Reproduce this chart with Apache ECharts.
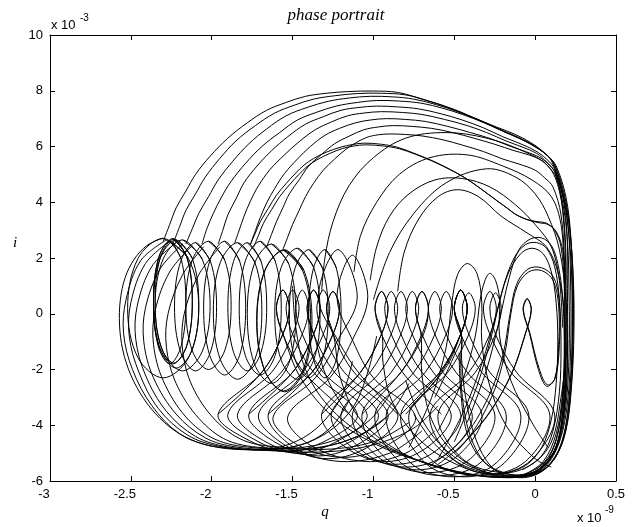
<!DOCTYPE html>
<html>
<head>
<meta charset="utf-8">
<script src="https://cdn.jsdelivr.net/npm/echarts@6.0.0/dist/echarts.min.js"></script>
<style>
  html, body { margin: 0; padding: 0; background: #fff; }
  #chart { width: 634px; height: 527px; }
</style>
</head>
<body>
<div id="chart"></div>
<script>
// q in units of 1e-9, i in units of 1e-3

// big arcs that climb from the left loops, run over the top and down the right edge
const topArcs = [
    [[-2.30,2.6],[-2.26,3.2],[-2.22,3.8],[-2.16,4.4],[-2.10,5.0],[-2.01,5.65],[-1.90,6.3],[-1.78,6.85],[-1.66,7.3],[-1.54,7.58],[-1.42,7.8],[-1.29,7.91],[-1.16,7.97],[-1.0,7.99],[-0.85,7.94],[-0.70,7.7],[-0.54,7.4],[-0.39,7.06],[-0.24,6.7],[-0.13,6.45],[-0.03,6.15],[0.04,5.86],[0.10,5.5],[0.16,4.5],[0.20,3.3],[0.225,1.5],[0.23,-0.5],[0.22,-2.5],[0.19,-4.0],[0.13,-5.1],[0.03,-5.7],[-0.10,-5.88],[-0.25,-5.6],[-0.36,-4.6],[-0.43,-3.0],[-0.455,-1.6],[-0.455,-0.8],[-0.50,0.2],[-0.46,0.85],[-0.42,0.2],[-0.465,-0.8],[-0.58,-2.1],[-0.80,-3.6]],
    [[-2.24,2.5],[-2.20,3.1],[-2.16,3.7],[-2.10,4.3],[-2.04,4.9],[-1.95,5.57],[-1.85,6.2],[-1.73,6.75],[-1.61,7.2],[-1.49,7.48],[-1.37,7.7],[-1.24,7.82],[-1.10,7.9],[-0.95,7.91],[-0.80,7.85],[-0.65,7.62],[-0.50,7.33],[-0.36,6.98],[-0.22,6.62],[-0.12,6.37],[-0.02,6.08],[0.05,5.8],[0.11,5.45],[0.17,4.4],[0.21,3.2],[0.235,1.4],[0.24,-0.6],[0.225,-2.6],[0.19,-4.2],[0.12,-5.2],[0.02,-5.72],[-0.12,-5.86],[-0.30,-5.7],[-0.50,-5.0],[-0.64,-3.8],[-0.70,-2.2],[-0.705,-0.8],[-0.74,0.2],[-0.70,0.8],[-0.66,0.2],[-0.695,-0.8],[-0.83,-2.1],[-1.07,-3.6]],
    [[-2.16,2.5],[-2.12,3.05],[-2.08,3.6],[-2.02,4.2],[-1.96,4.8],[-1.87,5.47],[-1.77,6.1],[-1.66,6.63],[-1.54,7.1],[-1.41,7.4],[-1.28,7.62],[-1.15,7.74],[-1.02,7.8],[-0.88,7.78],[-0.75,7.7],[-0.61,7.5],[-0.48,7.25],[-0.34,6.92],[-0.20,6.55],[-0.10,6.3],[0.0,6.0],[0.07,5.7],[0.12,5.35],[0.18,4.3],[0.215,3.0],[0.235,1.2],[0.235,-0.8],[0.22,-2.8],[0.18,-4.4],[0.10,-5.35],[-0.02,-5.78],[-0.20,-5.85],[-0.45,-5.5],[-0.70,-4.6],[-0.88,-3.2],[-0.94,-1.8],[-0.945,-0.8],[-0.99,0.2],[-0.95,0.8],[-0.91,0.2],[-0.955,-0.8],[-1.08,-2.1],[-1.32,-3.6]],
    [[-2.06,2.5],[-2.03,3.05],[-1.99,3.6],[-1.94,4.18],[-1.88,4.75],[-1.79,5.4],[-1.69,6.0],[-1.58,6.5],[-1.47,6.95],[-1.35,7.23],[-1.23,7.45],[-1.10,7.58],[-0.98,7.65],[-0.84,7.63],[-0.70,7.55],[-0.57,7.37],[-0.45,7.15],[-0.31,6.84],[-0.18,6.5],[-0.08,6.24],[0.01,5.95],[0.08,5.65],[0.13,5.3],[0.19,4.2],[0.22,2.8],[0.23,1.0],[0.23,-1.0],[0.21,-3.0],[0.17,-4.5],[0.08,-5.45],[-0.05,-5.82],[-0.25,-5.86],[-0.55,-5.6],[-0.85,-4.9],[-1.08,-3.8],[-1.20,-2.4],[-1.245,-0.8],[-1.29,0.2],[-1.25,0.8],[-1.21,0.2],[-1.255,-0.8],[-1.38,-2.1],[-1.65,-3.6]],
    [[-1.96,2.5],[-1.93,3.02],[-1.90,3.55],[-1.85,4.12],[-1.80,4.7],[-1.72,5.3],[-1.63,5.85],[-1.53,6.35],[-1.42,6.8],[-1.31,7.07],[-1.20,7.3],[-1.09,7.4],[-0.98,7.45],[-0.85,7.42],[-0.72,7.35],[-0.58,7.17],[-0.45,6.95],[-0.32,6.67],[-0.20,6.35],[-0.10,6.12],[0.0,5.85],[0.07,5.55],[0.12,5.2],[0.18,4.1],[0.21,2.7],[0.22,0.8],[0.22,-1.2],[0.20,-3.2],[0.15,-4.6],[0.06,-5.5],[-0.06,-5.8],[-0.30,-5.85],[-0.60,-5.5],[-0.90,-4.8],[-1.12,-3.8],[-1.28,-2.4],[-1.365,-0.8],[-1.41,0.2],[-1.37,0.85],[-1.33,0.2],[-1.375,-0.8],[-1.50,-2.1],[-1.77,-3.6]],
    [[-1.86,2.5],[-1.83,3.0],[-1.80,3.5],[-1.76,4.05],[-1.71,4.6],[-1.64,5.17],[-1.55,5.7],[-1.46,6.17],[-1.36,6.6],[-1.26,6.88],[-1.16,7.1],[-1.06,7.2],[-0.95,7.25],[-0.82,7.22],[-0.70,7.15],[-0.56,6.97],[-0.42,6.75],[-0.30,6.5],[-0.18,6.2],[-0.08,5.98],[0.01,5.75],[0.07,5.45],[0.12,5.1],[0.17,4.0],[0.20,2.6],[0.21,0.6],[0.21,-1.4],[0.19,-3.3],[0.14,-4.7],[0.05,-5.5],[-0.08,-5.82],[-0.35,-5.8],[-0.65,-5.4],[-0.98,-4.7],[-1.25,-3.7],[-1.45,-2.3],[-1.555,-0.8],[-1.60,0.2],[-1.56,0.85],[-1.52,0.2],[-1.565,-0.8],[-1.69,-2.1],[-1.96,-3.6]],
    [[-1.76,2.5],[-1.73,2.98],[-1.70,3.45],[-1.66,3.98],[-1.61,4.5],[-1.55,5.03],[-1.47,5.55],[-1.39,6.0],[-1.30,6.4],[-1.21,6.65],[-1.11,6.85],[-1.02,6.95],[-0.92,7.0],[-0.80,6.97],[-0.68,6.9],[-0.54,6.72],[-0.40,6.5],[-0.27,6.27],[-0.15,6.0],[-0.06,5.82],[0.03,5.6],[0.09,5.32],[0.13,5.0],[0.18,3.9],[0.20,2.4],[0.20,0.4],[0.20,-1.6],[0.18,-3.4],[0.13,-4.8],[0.04,-5.55],[-0.10,-5.84],[-0.40,-5.75],[-0.75,-5.2],[-1.05,-4.4],[-1.28,-3.3],[-1.42,-2.0],[-1.48,-0.5],[-1.50,1.0]],
    [[-1.66,2.4],[-1.63,2.85],[-1.60,3.3],[-1.56,3.8],[-1.52,4.3],[-1.46,4.8],[-1.40,5.3],[-1.32,5.72],[-1.24,6.1],[-1.15,6.37],[-1.06,6.6],[-0.97,6.7],[-0.88,6.75],[-0.76,6.72],[-0.64,6.65],[-0.51,6.5],[-0.38,6.3],[-0.25,6.08],[-0.13,5.85],[-0.04,5.7],[0.04,5.5],[0.09,5.22],[0.13,4.9],[0.17,3.8],[0.19,2.2],[0.19,0.2],[0.19,-1.8],[0.17,-3.6],[0.12,-4.9],[0.03,-5.6],[-0.10,-5.8],[-0.35,-5.6],[-0.55,-4.9],[-0.70,-3.8],[-0.80,-2.4]],
    [[-1.56,2.3],[-1.53,2.75],[-1.50,3.2],[-1.46,3.7],[-1.42,4.2],[-1.37,4.68],[-1.31,5.15],[-1.24,5.55],[-1.17,5.9],[-1.11,6.13],[-1.04,6.33],[-0.97,6.42],[-0.90,6.45],[-0.80,6.43],[-0.70,6.38],[-0.57,6.24],[-0.45,6.05],[-0.32,5.82],[-0.20,5.55],[-0.10,5.37],[0.0,5.15],[0.06,4.87],[0.11,4.55],[0.16,3.55],[0.18,2.0],[0.18,0],[0.18,-2.0],[0.16,-3.7],[0.10,-5.0],[0.0,-5.65],[-0.15,-5.82],[-0.40,-5.55],[-0.60,-4.8],[-0.75,-3.6]],
    [[-1.76,2.5],[-1.73,2.9],[-1.70,3.3],[-1.65,3.78],[-1.60,4.25],[-1.54,4.67],[-1.48,5.05],[-1.43,5.33],[-1.37,5.57],[-1.29,5.8],[-1.20,5.98],[-1.13,6.07],[-1.06,6.12],[-0.95,6.08],[-0.85,5.97],[-0.75,5.76],[-0.64,5.5],[-0.54,5.22],[-0.44,4.9],[-0.34,4.5],[-0.24,4.07],[-0.18,3.82],[-0.13,3.6],[-0.08,3.45],[-0.03,3.35],[0.02,3.3],[0.07,3.25],[0.12,3.0],[0.16,2.4],[0.18,1.0],[0.185,-1.0],[0.17,-3.0],[0.13,-4.5],[0.06,-5.3],[-0.04,-5.7],[-0.15,-5.78],[-0.30,-5.4],[-0.40,-4.4],[-0.45,-3.0],[-0.46,-1.6],[-0.455,-0.8],[-0.50,0.2],[-0.46,0.85],[-0.42,0.2],[-0.465,-0.8],[-0.59,-2.1],[-0.83,-3.6]],
    [[-1.74,2.4],[-1.71,2.82],[-1.68,3.25],[-1.63,3.73],[-1.58,4.2],[-1.52,4.62],[-1.46,5.0],[-1.41,5.28],[-1.35,5.52],[-1.27,5.75],[-1.19,5.93],[-1.12,6.02],[-1.05,6.06],[-0.94,6.02],[-0.84,5.92],[-0.74,5.72],[-0.63,5.46],[-0.53,5.18],[-0.43,4.86],[-0.33,4.46],[-0.23,4.03],[-0.17,3.78],[-0.12,3.56],[-0.07,3.42],[-0.02,3.32],[0.03,3.26],[0.08,3.2],[0.13,2.95],[0.17,2.3],[0.19,0.8],[0.19,-1.2],[0.175,-3.2],[0.14,-4.6],[0.07,-5.35],[-0.03,-5.72],[-0.16,-5.75],[-0.32,-5.3],[-0.42,-4.3],[-0.46,-2.8],[-0.47,-1.4]],
    [[-1.32,0.8],[-1.30,2.0],[-1.25,3.3],[-1.15,4.6],[-1.0,5.6],[-0.80,6.3],[-0.55,6.5],[-0.30,6.3],[-0.08,5.85],[0.08,5.3],[0.15,4.4],[0.18,3.0],[0.19,1.2]],
    [[-1.12,1.5],[-1.08,2.8],[-0.98,4.0],[-0.84,5.0],[-0.65,5.6],[-0.42,5.7],[-0.20,5.3],[-0.02,4.8],[0.10,4.2],[0.16,3.2],[0.18,1.5]],
    [[-1.02,1.2],[-0.98,2.4],[-0.90,3.5],[-0.78,4.3],[-0.62,4.8],[-0.45,4.85],[-0.28,4.55],[-0.12,3.9],[0.0,3.2],[0.10,2.4],[0.15,1.2],[0.17,-0.5]],
    [[-1.0,0.5],[-0.90,2.2],[-0.75,3.6],[-0.55,4.7],[-0.30,5.2],[-0.12,4.9],[0.0,4.3],[0.08,3.5],[0.15,2.3],[0.19,0.5],[0.20,-1.5],[0.18,-3.5],[0.12,-4.9],[0.02,-5.6],[-0.12,-5.82]],
    [[-0.85,0.8],[-0.81,2.2],[-0.72,3.4],[-0.60,4.2],[-0.48,4.45],[-0.35,4.2],[-0.21,3.5],[-0.05,2.9],[0.07,2.4],[0.14,1.5],[0.18,0],[0.19,-2.0],[0.17,-3.8],[0.11,-5.0],[0.0,-5.6]]
];

// tall loops on the left half
const leftLoops = [
    [[-2.24,2.7],[-2.155,2.05],[-2.12,0.45],[-2.155,-1.15],[-2.24,-1.8],[-2.325,-1.15],[-2.36,0.45],[-2.325,2.05],[-2.24,2.7],[-2.155,2.05]],
    [[-2.235,2.67],[-2.153,2.03],[-2.12,0.45],[-2.153,-1.13],[-2.235,-1.77],[-2.317,-1.13],[-2.35,0.45],[-2.317,2.03],[-2.235,2.67],[-2.153,2.03]],
    [[-2.22,2.65],[-2.12,1.98],[-2.08,0.35],[-2.12,-1.28],[-2.22,-1.95],[-2.32,-1.28],[-2.36,0.35],[-2.32,1.98],[-2.22,2.65],[-2.12,1.98]],
    [[-2.18,2.65],[-2.06,1.97],[-2.01,0.3],[-2.06,-1.37],[-2.18,-2.05],[-2.30,-1.37],[-2.35,0.3],[-2.30,1.97],[-2.18,2.65],[-2.06,1.97]],
    [[-2.30,2.7],[-2.144,1.98],[-2.08,0.2],[-2.144,-1.58],[-2.30,-2.3],[-2.456,-1.58],[-2.52,0.2],[-2.456,1.98],[-2.30,2.7],[-2.144,1.98]],
    [[-2.26,2.6],[-2.189,1.96],[-2.16,0.4],[-2.189,-1.16],[-2.26,-1.8],[-2.331,-1.16],[-2.36,0.4],[-2.331,1.96],[-2.26,2.6],[-2.189,1.96]],
    [[-2.10,2.55],[-2.008,1.88],[-1.97,0.25],[-2.008,-1.38],[-2.10,-2.05],[-2.192,-1.38],[-2.23,0.25],[-2.192,1.88],[-2.10,2.55],[-2.008,1.88]],
    [[-2.02,2.6],[-1.92,1.93],[-1.88,0.3],[-1.92,-1.33],[-2.02,-2.0],[-2.12,-1.33],[-2.16,0.3],[-2.12,1.93],[-2.02,2.6],[-1.92,1.93]],
    [[-1.92,2.6],[-1.828,1.9],[-1.79,0.2],[-1.828,-1.5],[-1.92,-2.2],[-2.012,-1.5],[-2.05,0.2],[-2.012,1.9],[-1.92,2.6],[-1.828,1.9]],
    [[-1.84,2.55],[-1.733,1.84],[-1.69,0.1],[-1.733,-1.64],[-1.84,-2.35],[-1.947,-1.64],[-1.99,0.1],[-1.947,1.84],[-1.84,2.55],[-1.733,1.84]],
    [[-1.78,2.55],[-1.695,1.88],[-1.66,0.25],[-1.695,-1.38],[-1.78,-2.05],[-1.865,-1.38],[-1.90,0.25],[-1.865,1.88],[-1.78,2.55],[-1.695,1.88]],
    [[-1.70,2.6],[-1.608,1.9],[-1.57,0.2],[-1.608,-1.5],[-1.70,-2.2],[-1.792,-1.5],[-1.83,0.2],[-1.792,1.9],[-1.70,2.6],[-1.608,1.9]],
    [[-1.63,2.5],[-1.523,1.78],[-1.48,0],[-1.523,-1.78],[-1.63,-2.5],[-1.737,-1.78],[-1.78,0],[-1.737,1.78],[-1.63,2.5],[-1.523,1.78]],
    [[-1.55,2.3],[-1.43,1.56],[-1.38,-0.25],[-1.43,-2.06],[-1.55,-2.8],[-1.67,-2.06],[-1.72,-0.25],[-1.67,1.56],[-1.55,2.3],[-1.43,1.56]],
    [[-1.555,2.27],[-1.437,1.54],[-1.388,-0.25],[-1.437,-2.04],[-1.555,-2.77],[-1.673,-2.04],[-1.722,-0.25],[-1.673,1.54],[-1.555,2.27],[-1.437,1.54]],
    [[-1.47,2.35],[-1.37,1.67],[-1.33,0],[-1.37,-1.67],[-1.47,-2.35],[-1.57,-1.67],[-1.61,0],[-1.57,1.67],[-1.47,2.35],[-1.37,1.67]],
    [[-1.40,2.3],[-1.315,1.63],[-1.28,0],[-1.315,-1.63],[-1.40,-2.3],[-1.485,-1.63],[-1.52,0],[-1.485,1.63],[-1.40,2.3],[-1.315,1.63]],
    [[-1.30,2.3],[-1.229,1.63],[-1.20,0],[-1.229,-1.63],[-1.30,-2.3],[-1.371,-1.63],[-1.40,0],[-1.371,1.63],[-1.30,2.3],[-1.229,1.63]]
];

// outer lobes sweeping down the left side and along the bottom
const outerArcs = [
    [[-2.30,2.72],[-2.40,2.45],[-2.48,1.95],[-2.535,1.3],[-2.565,0.5],[-2.57,-0.4],[-2.55,-1.3],[-2.50,-2.2],[-2.42,-3.05],[-2.32,-3.75],[-2.20,-4.3],[-2.05,-4.68],[-1.90,-4.82],[-1.70,-4.86],[-1.52,-4.68],[-1.35,-4.1],[-1.20,-3.0],[-1.13,-1.7]],
    [[-2.28,2.65],[-2.44,1.9],[-2.53,0.5],[-2.545,-0.7],[-2.49,-2.0],[-2.37,-3.3],[-2.20,-4.3],[-2.0,-4.75],[-1.75,-4.88],[-1.48,-4.75],[-1.27,-4.2],[-1.12,-3.3],[-1.03,-2.0],[-0.98,-0.8]],
    [[-2.26,2.6],[-2.41,1.8],[-2.50,0.4],[-2.51,-0.8],[-2.45,-2.1],[-2.33,-3.4],[-2.15,-4.35],[-1.95,-4.76],[-1.68,-4.9],[-1.38,-4.85],[-1.10,-4.4],[-0.90,-3.6],[-0.78,-2.5]],
    [[-2.22,2.55],[-2.37,1.7],[-2.46,0.3],[-2.47,-0.9],[-2.41,-2.2],[-2.28,-3.5],[-2.10,-4.4],[-1.90,-4.78],[-1.60,-4.92],[-1.28,-4.95],[-1.0,-4.7],[-0.75,-4.1],[-0.60,-3.3]],
    [[-2.18,2.5],[-2.32,1.6],[-2.41,0.2],[-2.42,-1.0],[-2.36,-2.3],[-2.22,-3.6],[-2.04,-4.45],[-1.85,-4.78],[-1.60,-4.85],[-1.40,-4.6],[-1.25,-4.0],[-1.15,-3.1]],
    [[-2.12,2.45],[-2.26,1.5],[-2.35,0.1],[-2.36,-1.1],[-2.30,-2.4],[-2.16,-3.7],[-1.98,-4.5],[-1.75,-4.8],[-1.45,-4.8],[-1.20,-4.45],[-1.02,-3.8],[-0.90,-2.9]],
    [[-2.05,2.4],[-2.18,1.4],[-2.27,0],[-2.28,-1.2],[-2.22,-2.5],[-2.08,-3.75],[-1.90,-4.55],[-1.65,-4.82],[-1.35,-4.8],[-1.10,-4.4],[-0.92,-3.7]],
    [[-1.95,2.4],[-2.08,1.4],[-2.17,0],[-2.18,-1.3],[-2.12,-2.6],[-1.98,-3.8],[-1.80,-4.55],[-1.55,-4.8],[-1.25,-4.85],[-0.98,-4.55],[-0.78,-3.9]]
];

// chains of narrow loops with their lower lobes
const chainMid = [[-0.58,-3.6],[-0.82,-2.1],
    [-0.945,-0.8],[-0.99,0.2],[-0.95,0.8],[-0.91,0.2],[-0.955,-0.8],[-1.08,-2.1],[-1.32,-3.6],[-1.17,-4.8],[-0.92,-5.3],[-0.67,-4.8],[-0.52,-3.6],[-0.76,-2.1],
    [-0.885,-0.8],[-0.93,0.2],[-0.89,0.8],[-0.85,0.2],[-0.895,-0.8],[-1.02,-2.1],[-1.26,-3.6],[-1.11,-4.9],[-0.86,-5.4],[-0.61,-4.9],[-0.46,-3.6],[-0.70,-2.1],
    [-0.825,-0.8],[-0.87,0.2],[-0.83,0.8],[-0.79,0.2],[-0.835,-0.8],[-0.96,-2.1],[-1.20,-3.6],[-1.05,-5.0],[-0.795,-5.5],[-0.54,-5.0],[-0.39,-3.6],[-0.63,-2.1],
    [-0.755,-0.8],[-0.80,0.2],[-0.76,0.8],[-0.72,0.2],[-0.765,-0.8],[-0.89,-2.1],[-1.13,-3.6],[-0.98,-5.1],[-0.73,-5.6],[-0.48,-5.1],[-0.33,-3.6],[-0.57,-2.1],
    [-0.695,-0.8],[-0.74,0.2],[-0.70,0.8],[-0.66,0.2],[-0.705,-0.8],[-0.83,-2.1],[-1.07,-3.6],[-0.92,-5.2],[-0.66,-5.7],[-0.40,-5.2],[-0.25,-3.6],[-0.49,-2.1],
    [-0.615,-0.8],[-0.66,0.2],[-0.62,0.8],[-0.58,0.2],[-0.625,-0.8],[-0.75,-2.1],[-0.99,-3.6],[-0.84,-5.3],[-0.585,-5.8],[-0.33,-5.3],[-0.18,-3.6],[-0.42,-2.1],
    [-0.545,-0.8],[-0.59,0.2],[-0.55,0.8],[-0.51,0.2],[-0.555,-0.8],[-0.68,-2.1],[-0.92,-3.6],[-0.77,-5.35],[-0.505,-5.85],[-0.24,-5.35],[-0.09,-3.6],[-0.33,-2.1],
    [-0.455,-0.8],[-0.50,0.2],[-0.46,0.85],[-0.42,0.2],[-0.465,-0.8],[-0.59,-2.1],[-0.83,-3.6],[-0.68,-5.35],[-0.435,-5.85],[-0.19,-5.35],[-0.04,-3.6],[-0.28,-2.1],
    [-0.405,-0.8],[-0.45,0.2],[-0.41,0.75],[-0.37,0.2],[-0.415,-0.8],[-0.54,-2.1],[-0.78,-3.6],[-0.63,-5.3],[-0.345,-5.8],[-0.06,-5.3],[0.09,-3.6],[-0.15,-2.1],
    [-0.275,-0.8],[-0.32,0.2],[-0.28,0.8],[-0.24,0.2],[-0.285,-0.8],[-0.41,-2.1],[-0.65,-3.6],[-0.50,-5.25],[-0.26,-5.75],[-0.025,-5.25],[0.12,-3.6],[-0.115,-2.1],
    [-0.24,-0.8],[-0.28,0.2],[-0.245,0.75],[-0.21,0.2],[-0.25,-0.8],[-0.37,-2.1],[-0.60,-3.6],[-0.45,-5.2],[-0.20,-5.7],[-0.02,-5.4],[0.10,-4.6],[0.16,-3.0],[0.20,-1.0]
];

const chainLeft = [[-1.15,-3.6],[-1.43,-2.1],
    [-1.555,-0.8],[-1.60,0.2],[-1.56,0.85],[-1.52,0.2],[-1.565,-0.8],[-1.69,-2.1],[-1.96,-3.6],[-1.80,-4.45],[-1.53,-4.95],[-1.26,-4.45],[-1.10,-3.6],[-1.37,-2.1],
    [-1.495,-0.8],[-1.54,0.2],[-1.50,0.85],[-1.46,0.2],[-1.505,-0.8],[-1.63,-2.1],[-1.90,-3.6],[-1.74,-4.5],[-1.47,-5.0],[-1.20,-4.5],[-1.04,-3.6],[-1.31,-2.1],
    [-1.435,-0.8],[-1.48,0.2],[-1.44,0.85],[-1.40,0.2],[-1.445,-0.8],[-1.57,-2.1],[-1.84,-3.6],[-1.68,-4.55],[-1.405,-5.05],[-1.13,-4.55],[-0.97,-3.6],[-1.24,-2.1],
    [-1.365,-0.8],[-1.41,0.2],[-1.37,0.85],[-1.33,0.2],[-1.375,-0.8],[-1.50,-2.1],[-1.77,-3.6],[-1.61,-4.6],[-1.34,-5.1],[-1.07,-4.6],[-0.91,-3.6],[-1.18,-2.1],
    [-1.305,-0.8],[-1.35,0.2],[-1.31,0.85],[-1.27,0.2],[-1.315,-0.8],[-1.44,-2.1],[-1.71,-3.6],[-1.55,-4.7],[-1.28,-5.2],[-1.01,-4.7],[-0.85,-3.6],[-1.12,-2.1],
    [-1.245,-0.8],[-1.29,0.2],[-1.25,0.8],[-1.21,0.2],[-1.255,-0.8],[-1.38,-2.1],[-1.65,-3.6],[-1.49,-4.8],[-1.20,-5.3],[-0.90,-5.0],[-0.70,-4.2]
];

const chainWide = [[-0.85,-3.6],[-1.08,-2.2],
    [-1.215,-1.0],[-1.34,0.6],[-1.22,2.3],[-1.10,0.6],[-1.225,-1.0],[-1.36,-2.3],[-1.62,-3.7],[-1.47,-4.7],[-1.18,-5.15],[-0.91,-4.7],[-0.74,-3.7],[-1.0,-2.3],
    [-1.125,-1.0],[-1.225,0.6],[-1.13,2.1],[-1.035,0.6],[-1.135,-1.0],[-1.27,-2.3],[-1.53,-3.7],[-1.38,-4.75],[-1.05,-5.3],[-0.80,-5.0],[-0.62,-4.2]
];

// loops near the right edge
const rightLoops = [
    [[-0.50,-5.0],[-0.30,-3.7],[-0.15,-2.2],[-0.06,-0.7],[-0.025,0.15],[-0.05,0.55],[-0.075,0.15],[-0.035,-0.7],[0.02,-2.0],[0.07,-2.6],[0.12,-2.35],[0.145,-1.2],[0.145,0.3],[0.11,1.2],[0.04,1.55],[-0.04,1.5],[-0.11,1.0],[-0.15,0],[-0.19,-1.5],[-0.27,-3.0],[-0.42,-4.5],[-0.60,-5.4]],
    [[-0.48,-4.9],[-0.29,-3.6],[-0.145,-2.15],[-0.058,-0.68],[-0.023,0.15],[-0.048,0.52],[-0.073,0.15],[-0.033,-0.68],[0.024,-1.95],[0.075,-2.55],[0.125,-2.3],[0.15,-1.1],[0.15,0.4],[0.115,1.3],[0.04,1.65],[-0.045,1.6],[-0.115,1.05],[-0.155,0],[-0.20,-1.5],[-0.29,-3.0],[-0.45,-4.5],[-0.65,-5.45]],
    [[-0.60,-5.2],[-0.45,-3.6],[-0.33,-1.8],[-0.24,0],[-0.17,1.4],[-0.09,2.15],[-0.02,2.35],[0.05,2.15],[0.10,1.5],[0.13,0.4],[0.14,-1.0],[0.13,-2.5],[0.10,-3.8],[0.04,-4.8],[-0.06,-5.45],[-0.20,-5.75]],
    [[-0.50,-4.6],[-0.36,-2.6],[-0.27,-0.8],[-0.20,0.9],[-0.13,2.0],[-0.06,2.48],[0.01,2.55],[0.07,2.35],[0.12,1.7],[0.15,0.5],[0.16,-1.2],[0.15,-2.8],[0.11,-4.2],[0.04,-5.1],[-0.08,-5.6]],
    [[-0.42,-3.9],[-0.30,-2.0],[-0.22,-0.2],[-0.16,1.3],[-0.10,2.3],[-0.03,2.68],[0.04,2.72],[0.10,2.45],[0.14,1.8],[0.17,0.6],[0.18,-1.0],[0.17,-2.8],[0.13,-4.3],[0.05,-5.3],[-0.06,-5.75]],
    [[-0.78,-4.8],[-0.64,-3.0],[-0.55,-1.2],[-0.515,0.4],[-0.48,1.4],[-0.42,1.8],[-0.36,1.45],[-0.33,0.4],[-0.33,-1.0],[-0.28,-2.6],[-0.17,-4.1],[0.0,-5.2],[0.10,-5.5]],
    [[-0.60,-4.2],[-0.45,-2.4],[-0.37,-0.8],[-0.34,0.5],[-0.31,1.2],[-0.28,1.45],[-0.245,1.2],[-0.22,0.5],[-0.22,-0.8],[-0.15,-2.4],[-0.02,-3.9],[0.08,-4.8]],
    [[-0.62,-3.0],[-0.50,-1.5],[-0.455,-0.8],[-0.50,0.2],[-0.46,0.85],[-0.42,0.2],[-0.465,-0.8],[-0.56,-2.0],[-0.78,-3.4]]
];

// one custom series per traced path: the points go through the axes with api.coord
// and are joined by a smoothed polyline
function trace(path) {
    return {
        type: 'custom',
        coordinateSystem: 'cartesian2d',
        data: path,
        silent: true,
        renderItem: function (params, api) {
            if (params.dataIndex !== 0) {
                return null;
            }
            const pts = path.map(function (p) { return api.coord(p); });
            return {
                type: 'polyline',
                shape: {points: pts, smooth: 0.35},
                style: {stroke: '#000', lineWidth: 1, fill: null}
            };
        }
    };
}

const series = [];
topArcs.forEach(function (p) { series.push(trace(p)); });
leftLoops.forEach(function (p) { series.push(trace(p)); });
outerArcs.forEach(function (p) { series.push(trace(p)); });
rightLoops.forEach(function (p) { series.push(trace(p)); });
series.push(trace(chainMid));
series.push(trace(chainLeft));
series.push(trace(chainWide));

const labelFont = 'Liberation Sans';

function xAxisOf(pos, labels) {
    return {
        type: 'value', position: pos, min: -3, max: 0.5, interval: 0.5,
        axisLine: {onZero: false, lineStyle: {color: '#000', width: 1}},
        axisTick: {inside: true, length: 5, lineStyle: {color: '#000'}},
        splitLine: {show: false},
        axisLabel: {
            show: labels, margin: 7, color: '#000', fontSize: 13, fontFamily: labelFont,
            formatter: function (v) {
                return v < 0 ? '{n|' + v + '}' : String(v);
            },
            rich: {n: {color: '#000', fontSize: 13, fontFamily: labelFont, padding: [0, 12, 0, 0]}}
        }
    };
}

function yAxisOf(pos, labels) {
    return {
        type: 'value', position: pos, min: -6, max: 10, interval: 2,
        axisLine: {onZero: false, lineStyle: {color: '#000', width: 1}},
        axisTick: {inside: true, length: 5, lineStyle: {color: '#000'}},
        splitLine: {show: false},
        axisLabel: {show: labels, margin: 7, color: '#000', fontSize: 13, fontFamily: labelFont}
    };
}

const myChart = echarts.init(document.getElementById('chart'));
myChart.setOption({
    backgroundColor: '#fff',
    animation: false,
    grid: {left: 50, right: 18, top: 35, bottom: 46},
    xAxis: [xAxisOf('bottom', true), xAxisOf('top', false)],
    yAxis: [yAxisOf('left', true), yAxisOf('right', false)],
    series: series,
    graphic: [
        {type: 'text', x: 336, y: 16, style: {text: 'phase portrait', font: 'italic 17px "Liberation Serif"', fill: '#000', textAlign: 'center', textVerticalAlign: 'middle'}},
        {type: 'text', x: 15, y: 243, style: {text: 'i', font: 'italic 15px "Liberation Serif"', fill: '#000', textAlign: 'center', textVerticalAlign: 'middle'}},
        {type: 'text', x: 325, y: 512, style: {text: 'q', font: 'italic 15px "Liberation Serif"', fill: '#000', textAlign: 'center', textVerticalAlign: 'middle'}},
        {type: 'text', x: 51, y: 25, style: {text: 'x 10', font: '13px "Liberation Sans"', fill: '#000', textAlign: 'left', textVerticalAlign: 'middle'}},
        {type: 'text', x: 80, y: 18, style: {text: '-3', font: '10px "Liberation Sans"', fill: '#000', textAlign: 'left', textVerticalAlign: 'middle'}},
        {type: 'text', x: 577, y: 518, style: {text: 'x 10', font: '13px "Liberation Sans"', fill: '#000', textAlign: 'left', textVerticalAlign: 'middle'}},
        {type: 'text', x: 605, y: 510, style: {text: '-9', font: '10px "Liberation Sans"', fill: '#000', textAlign: 'left', textVerticalAlign: 'middle'}}
    ]
});
window.onresize = myChart.resize;
</script>
</body>
</html>
